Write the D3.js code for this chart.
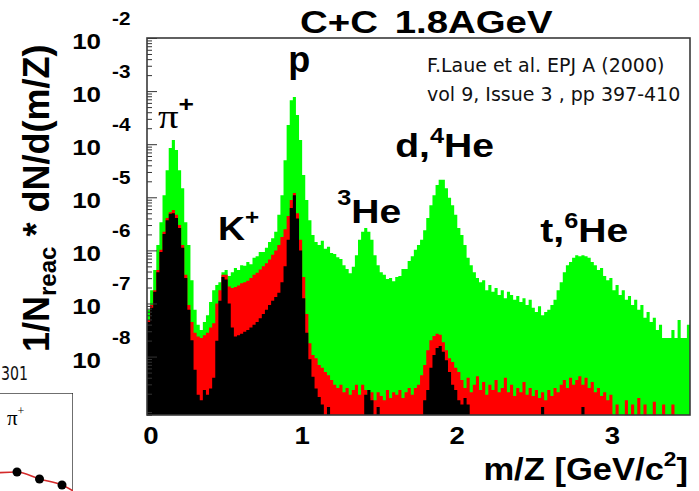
<!DOCTYPE html>
<html>
<head>
<meta charset="utf-8">
<script src="https://cdn.jsdelivr.net/npm/d3@7/dist/d3.min.js"></script>
<style>
    body { margin: 0; background: #fff; }
    svg { display: block; }
</style>
</head>
<body>
<svg id="chart" width="699" height="491"></svg>
<script>
// histogram bins of m/Z, width 0.02 GeV/c^2 from 0 to 3.5, values are log10(1/Nreac dN/d(m/Z))
var binWidth = 0.02;

var greenLog = [
    -7.12, -6.75, -6.37, -5.90, -5.47, -4.96, -4.49, -4.07, -3.92, -4.11,
    -4.49, -4.83, -5.47, -5.90, -6.56, -7.12, -7.40, -7.50, -7.35, -7.22,
    -6.97, -6.75, -6.65, -6.60, -6.41, -6.37, -6.48, -6.41, -6.33, -6.37,
    -6.28, -6.29, -6.22, -6.26, -6.14, -6.11, -6.03, -6.03, -5.95, -5.84,
    -5.77, -5.65, -5.33, -4.96, -4.30, -3.64, -3.17, -3.11, -3.45, -3.92,
    -4.58, -5.05, -5.43, -5.71, -5.84, -5.90, -5.82, -5.97, -5.93, -6.05,
    -6.07, -6.13, -6.16, -6.28, -6.35, -6.43, -6.31, -6.09, -5.80, -5.65,
    -5.58, -5.65, -5.80, -6.09, -6.28, -6.41, -6.46, -6.54, -6.52, -6.58,
    -6.50, -6.48, -6.35, -6.35, -6.20, -6.11, -5.99, -5.90, -5.80, -5.62,
    -5.39, -5.15, -4.96, -4.77, -4.67, -4.67, -4.83, -5.01, -5.15, -5.33,
    -5.58, -5.71, -5.90, -6.14, -6.28, -6.41, -6.52, -6.60, -6.56, -6.75,
    -6.65, -6.78, -6.71, -6.84, -6.75, -6.90, -6.78, -6.84, -6.93, -6.86,
    -6.97, -6.90, -7.03, -6.93, -7.08, -7.16, -7.05, -7.22, -7.16, -7.12,
    -7.03, -6.93, -6.75, -6.60, -6.41, -6.28, -6.22, -6.14, -6.09, -6.11,
    -6.09, -6.11, -6.14, -6.22, -6.28, -6.37, -6.33, -6.48, -6.56, -6.52,
    -6.75, -6.65, -6.84, -6.75, -6.93, -6.86, -7.03, -6.93, -7.12, -7.03,
    -7.27, -7.16, -7.35, -7.27, -7.50, -7.40, -7.65, -7.65, -7.65, -7.50,
    -7.65, -7.31, -7.65, -7.65, -7.40
];

var redLog = [
    -7.31, -7.03, -6.75, -6.37, -5.99, -5.65, -5.39, -5.28, -5.24, -5.33,
    -5.52, -5.90, -6.46, -7.03, -7.35, -7.55, -7.62, -7.65, -7.60, -7.55,
    -7.45, -7.37, -7.00, -6.75, -6.46, -6.46, -6.68, -6.71, -6.69, -6.66,
    -6.62, -6.60, -6.57, -6.52, -6.46, -6.42, -6.36, -6.30, -6.24, -6.17,
    -6.08, -6.00, -5.90, -5.75, -5.60, -5.35, -5.05, -4.92, -5.30, -5.80,
    -6.50, -7.20, -7.75, -7.97, -8.03, -8.16, -8.21, -8.29, -8.35, -8.44,
    -8.53, -8.59, -8.53, -8.67, -8.59, -8.72, -8.63, -8.53, -8.72, -8.53,
    -8.63, -8.78, -8.67, -8.82, -8.67, -8.74, -8.82, -8.63, -8.78, -8.67,
    -8.72, -8.63, -8.78, -8.67, -8.59, -8.72, -8.59, -8.53, -8.35, -8.16,
    -7.88, -7.69, -7.61, -7.57, -7.59, -7.73, -7.88, -8.03, -8.10, -8.21,
    -8.29, -8.44, -8.59, -8.40, -8.67, -8.53, -8.37, -8.63, -8.48, -8.72,
    -8.53, -8.63, -8.44, -8.67, -8.59, -8.40, -8.67, -8.53, -8.74, -8.59,
    -8.67, -8.48, -8.72, -8.59, -8.74, -8.63, -8.78, -8.67, -8.82, -8.63,
    -8.74, -8.59, -8.67, -8.53, -8.44, -8.59, -8.40, -8.53, -8.44, -8.37,
    -8.53, -8.40, -8.59, -8.48, -8.67, -8.59, -8.74, -8.67, -8.82, -8.72,
    null, -8.90, null, null, -8.82, null, -8.90, null, -8.78, null,
    -8.90, null, null, -8.85, null, null, -8.90, null, null, -8.90,
    null, null, null, null, null
];

var blackLog = [
    -7.35, -7.08, -6.78, -6.41, -6.03, -5.69, -5.43, -5.31, -5.30, -5.39,
    -5.58, -5.95, -6.52, -7.12, -7.69, -8.25, -8.72, -8.82, -8.63, -8.72,
    -8.60, -8.40, -7.70, -6.95, -6.50, -6.55, -7.00, -7.45, -7.62, -7.60,
    -7.57, -7.53, -7.50, -7.45, -7.40, -7.35, -7.28, -7.20, -7.12, -7.03,
    -6.95, -6.88, -6.80, -6.60, -6.30, -5.80, -5.20, -4.96, -5.40, -6.00,
    -6.90, -7.55, -8.05, -8.38, -8.60, -8.76, -8.90, null, -8.95, null,
    null, null, null, null, null, null, null, null, null, null,
    -8.72, -8.63, -8.82, null, -8.95, null, null, null, null, null,
    null, null, null, null, null, null, null, null, null, -8.82,
    -8.63, -8.21, -7.97, -7.84, -7.80, -7.91, -8.07, -8.29, -8.53, -8.63,
    -8.82, -8.90, -8.78, -8.90, null, null, null, null, null, null,
    null, null, null, null, null, null, null, null, null, null,
    null, null, null, null, null, null, null, -8.95, null, null,
    null, null, null, null, null, null, null, null, null, null,
    -8.95, null, null, null, null, null, null, null, null, null,
    null, null, null, null, null, null, null, null, null, null,
    null, null, null, null, null, null, null, null, null, null,
    null, null, null, null, null
];

var yDecades = [-2, -3, -4, -5, -6, -7, -8];
var xTicks = [0, 1, 2, 3];

// peak labels, anchored in data coordinates (m/Z, log10 value of the baseline)
var peakLabels = [
    {m: 0.071, lv: -3.69, parts: [["π", 0, "serif"], ["+", -16, "sup"]], sx: 1.2},
    {m: 0.910, lv: -2.64, parts: [["p", 0, "big"]], sx: 1.0},
    {m: 0.458, lv: -5.80, parts: [["K", 0, "mid"], ["+", -15, "sup"]], sx: 1.1},
    {m: 1.226, lv: -5.48, parts: [["3", -18, "sup"], ["He", 18, "mid"]], sx: 1.15},
    {m: 1.600, lv: -4.24, parts: [["d,", 0, "mid"], ["4", -14, "sup"], ["He", 14, "mid"]], sx: 1.15},
    {m: 2.535, lv: -5.84, parts: [["t,", 0, "mid"], ["6", -14, "sup"], ["He", 14, "mid"]], sx: 1.15}
];

// small neighbouring panel cut at the left border
var insetPt = [0.1, 0.3, 0.5, 0.7, 0.8];
var insetVal = [2.7, 2.8, 2.1, 1.5, 0.9];

var margin = {top: 38, right: 9, bottom: 76, left: 147},
    width = 699 - margin.left - margin.right,
    height = 491 - margin.top - margin.bottom;

var bold = "'Liberation Sans', Arial, Helvetica, sans-serif";

var x = d3.scaleLinear().domain([0, 3.5]).range([0, width]);
var y = d3.scaleLog().domain([Math.pow(10, -9.1), 1e-2]).range([height, 0]).clamp(true);

var svg = d3.select("#chart");

svg.append("defs").append("clipPath")
    .attr("id", "plotClip")
    .append("rect")
    .attr("width", width)
    .attr("height", height);

var g = svg.append("g")
    .attr("transform", "translate(" + margin.left + "," + margin.top + ")");

function binPoints(vals) {
    var pts = vals.map(function (v, i) { return {m: i * binWidth, v: v}; });
    pts.push({m: vals.length * binWidth, v: vals[vals.length - 1]});
    return pts;
}

var area = d3.area()
    .curve(d3.curveStepAfter)
    .x(function (d) { return x(d.m); })
    .y0(height)
    .y1(function (d) { return d.v === null ? height : y(Math.pow(10, d.v)); });

var hists = [
    {vals: greenLog, color: "#00ff00"},
    {vals: redLog, color: "#ff0000"},
    {vals: blackLog, color: "#000000"}
];

g.append("g")
    .attr("clip-path", "url(#plotClip)")
    .selectAll("path")
    .data(hists)
    .enter().append("path")
    .attr("d", function (d) { return area(binPoints(d.vals)); })
    .attr("fill", function (d) { return d.color; })
    .attr("stroke", "none");

// log ticks on the left axis, drawn inside the frame
var minor = [];
for (var e = -10; e < -2; e++) {
    for (var k = 2; k <= 9; k++) {
        var t = k * Math.pow(10, e);
        if (t >= y.domain()[0] && t <= 1e-2) minor.push(t);
    }
}

g.append("g")
    .call(d3.axisRight(y)
        .tickValues(yDecades.map(function (d) { return Math.pow(10, d); }))
        .tickSize(10)
        .tickFormat(""));
g.append("g")
    .call(d3.axisRight(y)
        .tickValues(minor)
        .tickSize(5)
        .tickFormat(""));
g.selectAll(".domain").remove();
g.selectAll(".tick line").attr("stroke", "#333").attr("stroke-width", 1);

// frame
g.append("rect")
    .attr("width", width)
    .attr("height", height)
    .attr("fill", "none")
    .attr("stroke", "#3a3a3a")
    .attr("stroke-width", 1.6);

// y tick labels 10^n
var yLab = svg.append("g").attr("font-family", bold).attr("font-weight", "bold").attr("fill", "#000");
yDecades.forEach(function (d) {
    var ty = margin.top + y(Math.pow(10, d));
    yLab.append("text")
        .attr("transform", "translate(101," + (ty + 11) + ") scale(1.18,1)")
        .attr("text-anchor", "end")
        .attr("font-size", 22)
        .text("10");
    yLab.append("text")
        .attr("transform", "translate(112," + (ty - 13) + ") scale(1.15,1)")
        .attr("font-size", 18)
        .text(d);
});

// x tick labels
svg.append("g")
    .selectAll("text")
    .data(xTicks)
    .enter().append("text")
    .attr("transform", function (d) {
        return "translate(" + (margin.left + x(d) + (d === 0 ? 4 : 0)) + ",444) scale(1.15,1)";
    })
    .attr("text-anchor", "middle")
    .attr("font-family", bold)
    .attr("font-weight", "bold")
    .attr("font-size", 24)
    .text(function (d) { return d; });

// axis titles
var xt = svg.append("text")
    .attr("transform", "translate(688,480) scale(1.08,1)")
    .attr("text-anchor", "end")
    .attr("font-family", bold)
    .attr("font-weight", "bold")
    .attr("font-size", 32);
xt.append("tspan").text("m/Z [GeV/c");
xt.append("tspan").attr("font-size", 21).attr("dy", -14).text("2");
xt.append("tspan").attr("dy", 14).text("]");

var yt = svg.append("text")
    .attr("transform", "translate(49,352) rotate(-90)")
    .attr("font-family", bold)
    .attr("font-weight", "bold")
    .attr("font-size", 36);
yt.append("tspan").text("1/N");
yt.append("tspan").attr("font-size", 24).attr("dy", 7).text("reac");
yt.append("tspan").attr("dy", -7).text(" * dN/d(m/Z)");

// title
var title = svg.append("text")
    .attr("transform", "translate(300,33) scale(1.2,1)")
    .attr("font-family", bold)
    .attr("font-weight", "bold")
    .attr("font-size", 32);
title.append("tspan").text("C+C");
title.append("tspan").attr("dx", 14).text("1.8AGeV");

// peak labels
var styles = {
    serif: {family: "'Liberation Serif', 'DejaVu Serif', serif", size: 34, weight: "normal"},
    sup: {family: bold, size: 22, weight: "bold"},
    mid: {family: bold, size: 34, weight: "bold"},
    big: {family: bold, size: 36, weight: "bold"}
};
peakLabels.forEach(function (lab) {
    var tx = svg.append("text")
        .attr("transform", "translate(" + (margin.left + x(lab.m)) + "," +
            (margin.top + y(Math.pow(10, lab.lv))) + ") scale(" + lab.sx + ",1)");
    lab.parts.forEach(function (p) {
        var s = styles[p[2]];
        tx.append("tspan")
            .attr("dy", p[1])
            .attr("font-family", s.family)
            .attr("font-size", s.size)
            .attr("font-weight", s.weight)
            .text(p[0]);
    });
});

// reference
var ref = svg.append("text")
    .attr("font-family", "'DejaVu Sans', sans-serif")
    .attr("font-size", 19)
    .attr("fill", "#111");
ref.append("tspan").attr("x", 427).attr("y", 72).text("F.Laue et al. EPJ A (2000)");
ref.append("tspan").attr("x", 427).attr("y", 101).text("vol 9, Issue 3 , pp 397-410");

// neighbouring panel remains
svg.append("text")
    .attr("x", 1)
    .attr("y", 380)
    .attr("font-family", "'DejaVu Sans', sans-serif")
    .attr("font-size", 19)
    .attr("textLength", 27)
    .attr("lengthAdjust", "spacingAndGlyphs")
    .attr("fill", "#111")
    .text("301");

var ix = d3.scaleLinear().domain([0.3, 0.7]).range([17, 62]);
var iy = d3.scaleLinear().domain([0, 3]).range([500, 470]);

svg.append("defs").append("clipPath")
    .attr("id", "insetClip")
    .append("rect")
    .attr("x", -5).attr("y", 393).attr("width", 78).attr("height", 110);

var inset = svg.append("g").attr("clip-path", "url(#insetClip)");
inset.append("rect")
    .attr("x", -5).attr("y", 393).attr("width", 78).attr("height", 110)
    .attr("fill", "none")
    .attr("stroke", "#222")
    .attr("stroke-width", 1.3);

var insetData = insetPt.map(function (d, i) { return [d, insetVal[i]]; });
inset.append("path")
    .attr("d", d3.line().curve(d3.curveMonotoneX)
        .x(function (d) { return ix(d[0]); })
        .y(function (d) { return iy(d[1]); })(insetData))
    .attr("fill", "none")
    .attr("stroke", "#d42a2a")
    .attr("stroke-width", 1.6);
inset.selectAll("circle")
    .data(insetData.filter(function (d) { return d[0] <= 0.7; }))
    .enter().append("circle")
    .attr("cx", function (d) { return ix(d[0]); })
    .attr("cy", function (d) { return iy(d[1]); })
    .attr("r", 4.5)
    .attr("fill", "#000");

var ip = inset.append("text")
    .attr("x", 7).attr("y", 425)
    .attr("font-family", "'Liberation Serif', serif")
    .attr("font-size", 21);
ip.append("tspan").text("π");
ip.append("tspan").attr("font-size", 12).attr("dy", -10).text("+");
</script>
</body>
</html>
